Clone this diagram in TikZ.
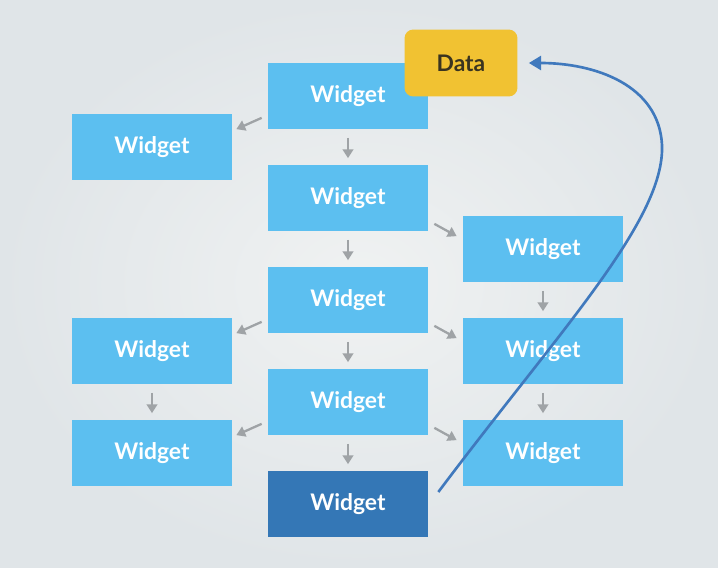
\documentclass[tikz,border=0pt]{standalone}
\usepackage{fontspec}
\setmainfont{Lato}
\usetikzlibrary{calc,arrows.meta,shadings}
\definecolor{bgin}{HTML}{F0F2F2}
\definecolor{bgout}{HTML}{E0E5E8}
\definecolor{lblue}{HTML}{5CBFF0}
\definecolor{dblue}{HTML}{3477B6}
\definecolor{dyellow}{HTML}{F1C232}
\definecolor{garrowc}{HTML}{9FA3A6}
\definecolor{curvec}{HTML}{4079BD}
\definecolor{datatext}{HTML}{3A3420}
\tikzset{
  widget/.style={fill=lblue, draw=none, minimum width=3.2cm, minimum height=1.34cm, inner sep=0pt,
    text=white, font=\fontsize{13}{15}\selectfont\bfseries},
  darkwidget/.style={widget, fill=dblue},
  databox/.style={fill=dyellow, draw=none, rounded corners=5pt, minimum width=2.26cm, minimum height=1.34cm,
    inner sep=0pt, text=datatext, font=\fontsize{13}{15}\selectfont\bfseries},
  garrow/.style={draw=garrowc, line width=1.3pt, -{Triangle[length=5pt,width=6pt]}},
  backarrow/.style={draw=curvec, line width=1.5pt, -{Triangle[length=7pt,width=8pt]}}
}
\begin{document}
\begin{tikzpicture}[x=0.02cm,y=-0.02cm]
\useasboundingbox (0,0) rectangle (718,568);
\shade[inner color=bgin, outer color=bgout] (0,0) rectangle (718,568);
% center column
\node[widget] (c1) at (348,96) {Widget};
\node[widget] (c2) at (348,198) {Widget};
\node[widget] (c3) at (348,300) {Widget};
\node[widget] (c4) at (348,402) {Widget};
\node[darkwidget] (c5) at (348,504) {Widget};
% left column
\node[widget] (l1) at (152,147) {Widget};
\node[widget] (l2) at (152,351) {Widget};
\node[widget] (l3) at (152,453) {Widget};
% right column
\node[widget] (r1) at (543,249) {Widget};
\node[widget] (r2) at (543,351) {Widget};
\node[widget] (r3) at (543,453) {Widget};
% data
\node[databox] (data) at (461,63) {Data};
% vertical arrows
\foreach \a/\b in {c1/c2,c2/c3,c3/c4,c4/c5,l2/l3,r1/r2,r2/r3}
  \draw[garrow, shorten <=0.16cm, shorten >=0.12cm] (\a.south) -- (\b.north);
% diagonal arrows to the left
\foreach \a/\b in {c1/l1,c3/l2,c4/l3}
  \draw[garrow] ($(\a.south west)+(-6,-12)$) -- ($(\b.north east)+(4,16)$);
% diagonal arrows to the right
\foreach \a/\b in {c2/r1,c3/r2,c4/r3}
  \draw[garrow] ($(\a.south east)+(6,-8)$) -- ($(\b.north west)+(-6,21)$);
% curve back to data
\coordinate (cstart) at ($(c5.east)+(10,-12)$);
\coordinate (cend) at ($(data.east)+(11,0)$);
\draw[backarrow] (cstart) .. controls (560,330) and (665,220) .. (662,145)
  .. controls (659,85) and (595,63) .. (cend);
\end{tikzpicture}
\end{document}
